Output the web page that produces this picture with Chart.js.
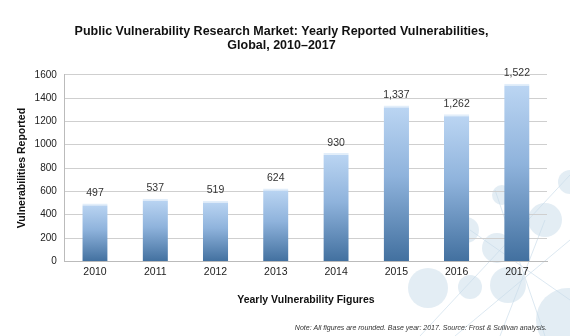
<!DOCTYPE html>
<html>
<head>
<meta charset="utf-8">
<script src="https://cdn.jsdelivr.net/npm/chart.js@4.4.0/dist/chart.umd.min.js"></script>
<style>
    html, body { margin: 0; padding: 0; background: #fff; }
    #wrap { width: 570px; height: 336px; }
</style>
</head>
<body>
<div id="wrap"><canvas id="vulnChart" width="570" height="336"></canvas></div>
<script>
const years = ['2010', '2011', '2012', '2013', '2014', '2015', '2016', '2017'];
const reported = [497, 537, 519, 624, 930, 1337, 1262, 1522];
const yTicks = [0, 200, 400, 600, 800, 1000, 1200, 1400, 1600];

const FONT = "'Liberation Sans', Arial, sans-serif";

// faint bubbles in the lower right corner, like the slide background
const backdrop = {
    id: 'backdrop',
    beforeDraw(chart) {
        const ctx = chart.ctx;
        ctx.save();
        ctx.strokeStyle = 'rgba(205, 222, 235, 0.7)';
        ctx.lineWidth = 1;
        ctx.beginPath();
        ctx.moveTo(420, 336); ctx.lineTo(570, 175);
        ctx.moveTo(455, 336); ctx.lineTo(570, 240);
        ctx.moveTo(495, 190); ctx.lineTo(545, 336);
        ctx.moveTo(470, 230); ctx.lineTo(570, 300);
        ctx.moveTo(500, 336); ctx.lineTo(545, 220);
        ctx.stroke();
        const dots = [[428, 288, 20], [470, 287, 12], [508, 285, 18], [545, 220, 17], [497, 248, 15],
                      [466, 230, 13], [502, 195, 10], [570, 182, 12], [568, 320, 32]];
        dots.forEach(d => {
            ctx.beginPath();
            ctx.arc(d[0], d[1], d[2], 0, Math.PI * 2);
            ctx.fillStyle = 'rgba(200, 220, 234, 0.5)';
            ctx.fill();
        });
        ctx.restore();
    }
};

// value labels above each bar
const valueLabels = {
    id: 'valueLabels',
    afterDatasetsDraw(chart) {
        const ctx = chart.ctx;
        const meta = chart.getDatasetMeta(0);
        ctx.save();
        ctx.font = '10.5px ' + FONT;
        ctx.fillStyle = '#333';
        ctx.textAlign = 'center';
        ctx.textBaseline = 'bottom';
        meta.data.forEach((bar, i) => {
            ctx.fillText(reported[i].toLocaleString('en-US'), bar.x, bar.y - 5);
        });
        ctx.restore();
    }
};

// each bar runs light at its own top to dark at the base
function barGradient(context) {
    const chart = context.chart;
    const area = chart.chartArea;
    if (!area || !chart.scales.y) return '#7fa6cf';
    const top = chart.scales.y.getPixelForValue(context.raw);
    const g = chart.ctx.createLinearGradient(0, top, 0, area.bottom);
    g.addColorStop(0, '#bcd6f3');
    g.addColorStop(0.45, '#8fb3dc');
    g.addColorStop(1, '#42709f');
    return g;
}

new Chart(document.getElementById('vulnChart'), {
    type: 'bar',
    data: {
        labels: years,
        datasets: [{
            data: reported,
            backgroundColor: barGradient,
            borderColor: '#e2eefa',
            borderWidth: { top: 2, left: 0, right: 0, bottom: 0 },
            barPercentage: 0.42,
            categoryPercentage: 1
        }]
    },
    options: {
        responsive: false,
        animation: false,
        layout: { padding: { left: 16, right: 23, top: 24, bottom: 2 } },
        plugins: {
            legend: { display: false },
            tooltip: { enabled: false },
            title: {
                display: true,
                text: ['Public Vulnerability Research Market: Yearly Reported Vulnerabilities,', 'Global, 2010\u20132017'],
                color: '#111',
                font: { family: FONT, size: 12.5, weight: 'bold', lineHeight: 1.15 },
                padding: { top: 0, bottom: 22 }
            },
            subtitle: {
                display: true,
                position: 'bottom',
                align: 'end',
                text: 'Note: All figures are rounded. Base year: 2017. Source: Frost & Sullivan analysis.',
                color: '#333',
                font: { family: FONT, size: 7, style: 'italic' },
                padding: { top: 17, bottom: 2 }
            }
        },
        scales: {
            x: {
                grid: { display: false, drawTicks: false, tickLength: 0 },
                border: { color: '#bbb' },
                ticks: { color: '#222', font: { family: FONT, size: 10.5 }, padding: 4 },
                title: {
                    display: true,
                    text: 'Yearly Vulnerability Figures',
                    color: '#111',
                    font: { family: FONT, size: 10.5, weight: 'bold' },
                    padding: { top: 12, bottom: 0 }
                }
            },
            y: {
                min: 0,
                max: 1600,
                afterBuildTicks(axis) {
                    axis.ticks = yTicks.map(v => ({ value: v }));
                },
                grid: { color: '#cfcfcf', drawTicks: false },
                border: { color: '#bbb' },
                ticks: {
                    color: '#222',
                    font: { family: FONT, size: 10 },
                    padding: 8,
                    callback: value => String(value)
                },
                title: {
                    display: true,
                    text: 'Vulnerabilities Reported',
                    color: '#111',
                    font: { family: FONT, size: 10.5, weight: 'bold' },
                    padding: { top: 0, bottom: -2 }
                }
            }
        }
    },
    plugins: [backdrop, valueLabels]
});
</script>
</body>
</html>
